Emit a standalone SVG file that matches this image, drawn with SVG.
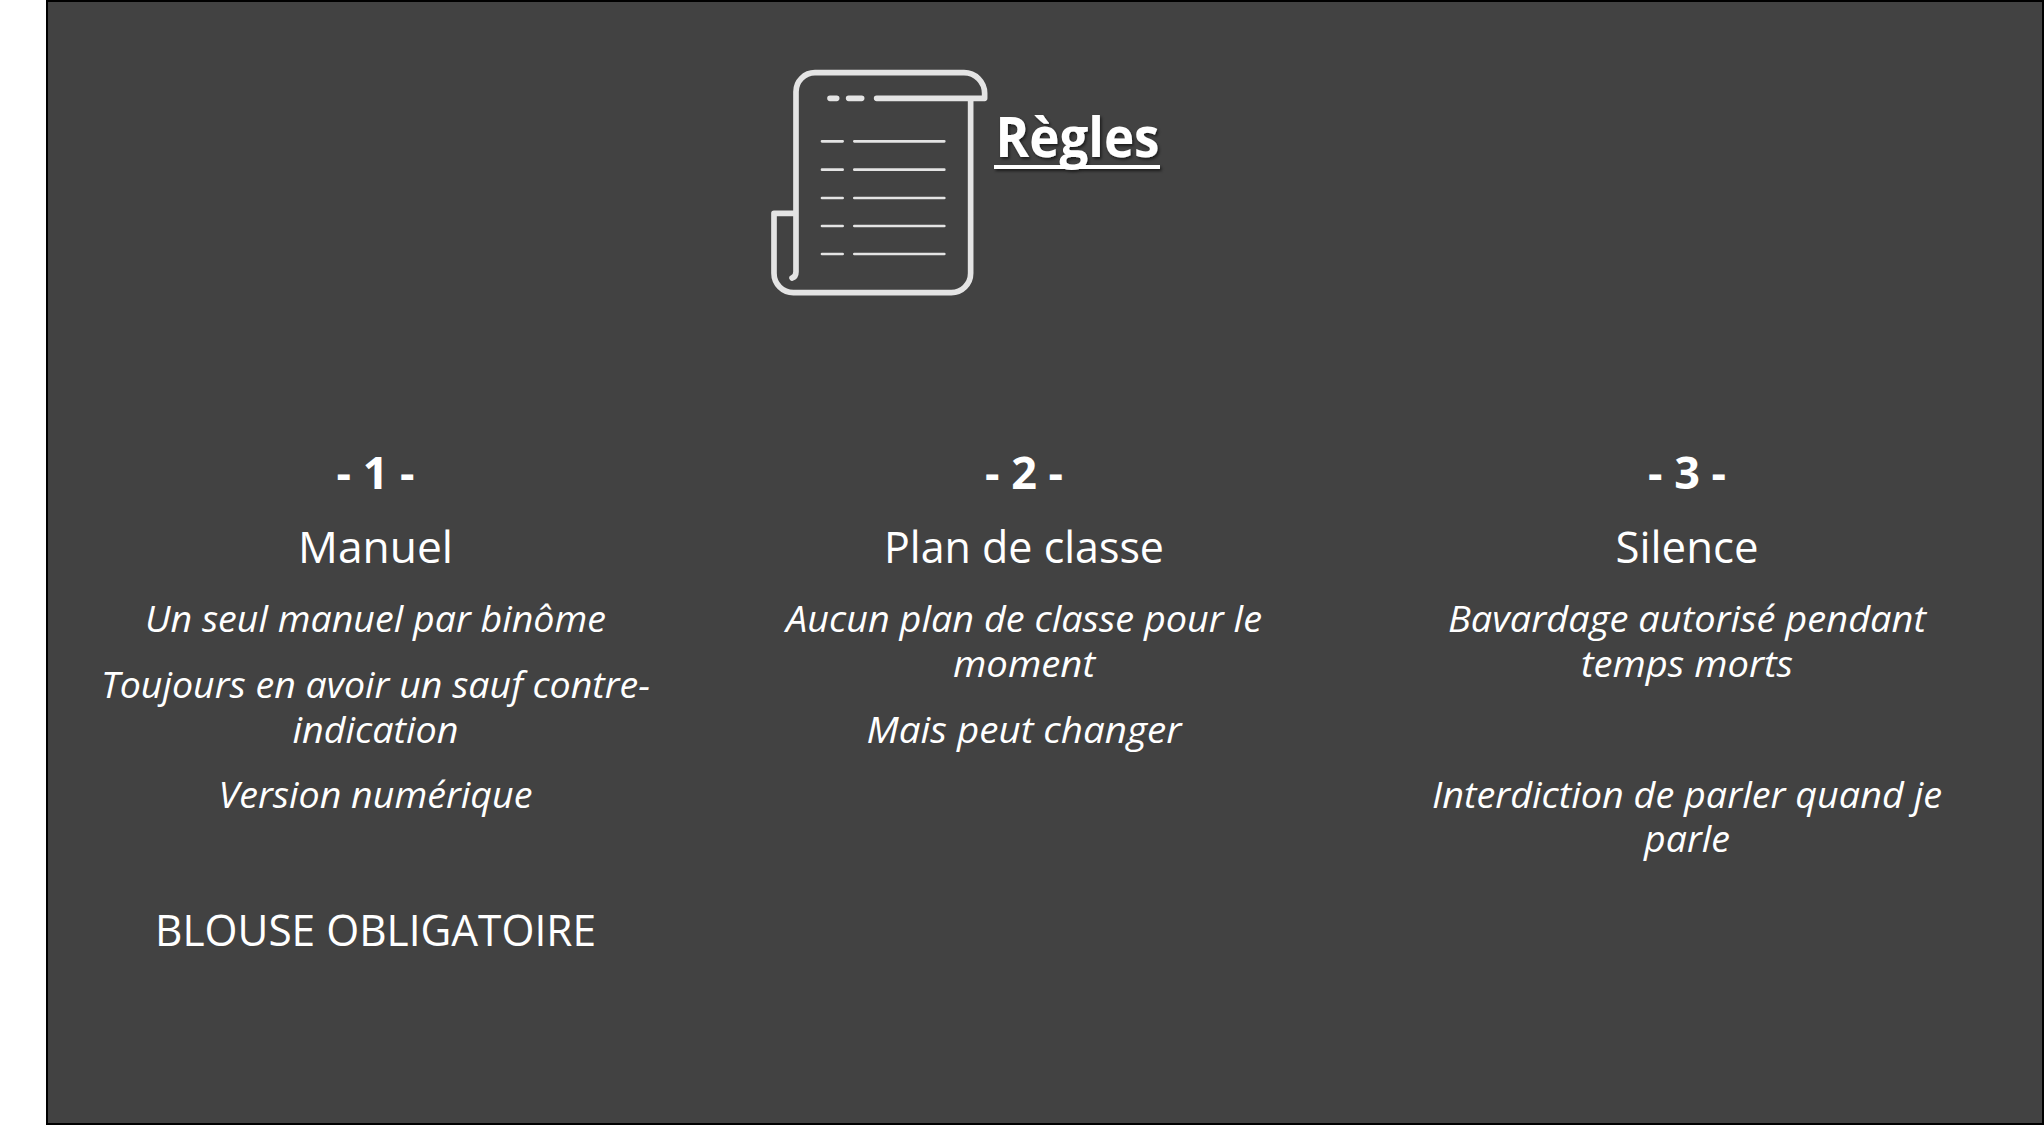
<svg xmlns="http://www.w3.org/2000/svg" width="2044" height="1125" viewBox="0 0 2044 1125">
<style>
text{font-family:"Open Sans","Noto Sans","Liberation Sans",sans-serif;fill:#fff;text-anchor:middle}
.num{font-size:45px;font-weight:700}
.head{font-size:44px}
.it{font-size:36.5px;font-style:italic}
.ic{fill:none;stroke:#e4e4e4;stroke-linecap:round;stroke-linejoin:round}
</style>
<defs><filter id="sh" x="-10%" y="-10%" width="120%" height="130%"><feDropShadow dx="1.5" dy="2" stdDeviation="1.5" flood-color="#000" flood-opacity="0.6"/></filter></defs>
<rect width="2044" height="1125" fill="#fff"/>
<rect x="47" y="1" width="1996" height="1123" fill="#424242" stroke="#000" stroke-width="2"/>
<g id="icon" transform="translate(740 50) scale(0.3333)">
<path class="ic" stroke-width="17" d="M156 684Q168 680 168 665V125A57 57 0 0 1 225 68H672A62 62 0 0 1 734 130V145H410M270 145H290M326 145H365M692 150V670A58 58 0 0 1 634 728H160A58 58 0 0 1 102 670V490H168"/>
<path class="ic" stroke-width="8" stroke-linecap="butt" d="M246 274H308M343 274H613M246 359H308M343 359H613M246 444H308M343 444H613M246 528H308M343 528H613M246 612H308M343 612H613"/>
</g>
<g id="title" filter="url(#sh)"><text x="1077.5" y="157" font-size="56" font-weight="700" textLength="164" lengthAdjust="spacingAndGlyphs">Règles</text><rect x="994" y="165" width="166" height="4" fill="#fff"/></g>
<g id="col1">
<text class="num" x="375.5" y="489" textLength="78" lengthAdjust="spacingAndGlyphs">- 1 -</text>
<text class="head" x="375.5" y="563" textLength="155" lengthAdjust="spacingAndGlyphs">Manuel</text>
<text class="it" x="375.5" y="632" textLength="461" lengthAdjust="spacingAndGlyphs">Un seul manuel par binôme</text>
<text class="it"><tspan x="375.5" y="698" textLength="549" lengthAdjust="spacingAndGlyphs">Toujours en avoir un sauf contre-</tspan><tspan x="375.5" y="743" textLength="166" lengthAdjust="spacingAndGlyphs">indication</tspan></text>
<text class="it" x="375.5" y="808" textLength="314" lengthAdjust="spacingAndGlyphs">Version numérique</text>
<text class="head" x="375.5" y="946" textLength="441" lengthAdjust="spacingAndGlyphs">BLOUSE OBLIGATOIRE</text>
</g>
<g id="col2">
<text class="num" x="1024" y="489" textLength="78" lengthAdjust="spacingAndGlyphs">- 2 -</text>
<text class="head" x="1024" y="563" textLength="280" lengthAdjust="spacingAndGlyphs">Plan de classe</text>
<text class="it"><tspan x="1024" y="632" textLength="476" lengthAdjust="spacingAndGlyphs">Aucun plan de classe pour le</tspan><tspan x="1024" y="677" textLength="142" lengthAdjust="spacingAndGlyphs">moment</tspan></text>
<text class="it" x="1024" y="743" textLength="315" lengthAdjust="spacingAndGlyphs">Mais peut changer</text>
</g>
<g id="col3">
<text class="num" x="1687" y="489" textLength="78" lengthAdjust="spacingAndGlyphs">- 3 -</text>
<text class="head" x="1687" y="563" textLength="143" lengthAdjust="spacingAndGlyphs">Silence</text>
<text class="it"><tspan x="1687" y="632" textLength="478" lengthAdjust="spacingAndGlyphs">Bavardage autorisé pendant</tspan><tspan x="1687" y="677" textLength="212" lengthAdjust="spacingAndGlyphs">temps morts</tspan></text>
<text class="it"><tspan x="1687" y="808" textLength="510" lengthAdjust="spacingAndGlyphs">Interdiction de parler quand je</tspan><tspan x="1687" y="852" textLength="86" lengthAdjust="spacingAndGlyphs">parle</tspan></text>
</g>
</svg>
